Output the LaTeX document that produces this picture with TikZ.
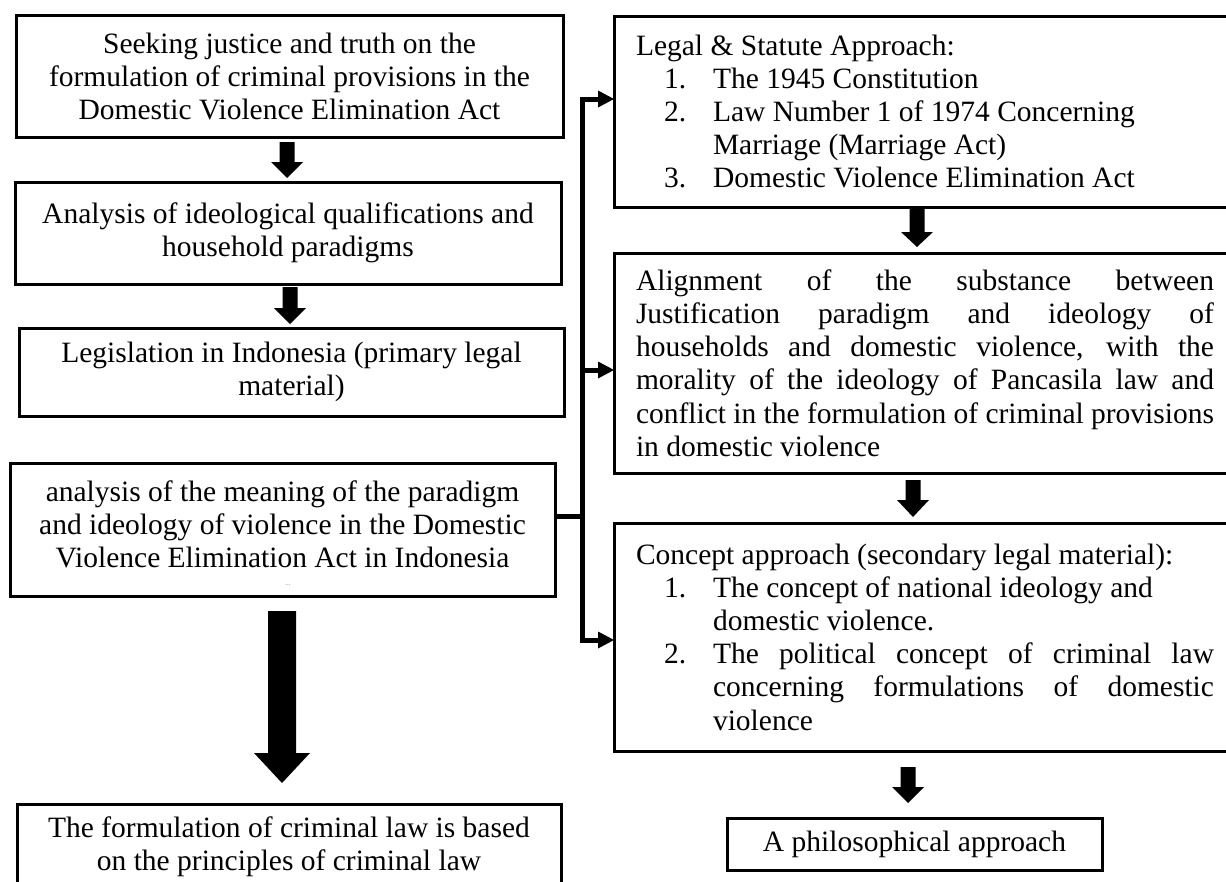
\documentclass[tikz,border=0pt]{standalone}
\usepackage{fontspec}
\setmainfont{Liberation Serif}
\usetikzlibrary{arrows.meta,calc}
\tolerance=10000 \hbadness=10000 \hfuzz=6pt
\newcommand\numitem[2]{{\leftskip=77pt\noindent\hspace*{-49pt}\makebox[49pt][l]{#1}#2\par}}
\newcommand\blockarrow[6]{%
  \fill let \p1=(#2), \p2=(#3) in
    ({#1pt-#4pt},\y1) -- ({#1pt+#4pt},\y1) -- ({#1pt+#4pt},\y2+#6pt) -- ({#1pt+#5pt},\y2+#6pt)
    -- (#1pt,\y2) -- ({#1pt-#5pt},\y2+#6pt) -- ({#1pt-#4pt},\y2+#6pt) -- cycle;}
\tikzset{
  box/.style={draw, line width=3pt, rectangle, inner sep=0pt, outer sep=0pt, align=center,
    font=\fontsize{29.5}{33}\selectfont},
  rbox/.style={draw, line width=3pt, rectangle, anchor=west, inner xsep=22pt, inner ysep=0pt,
    outer sep=0pt, font=\fontsize{29.5}{33.2}\selectfont},
  conn/.style={line width=5pt, line join=miter},
  conntip/.style={-{Triangle[length=16pt,width=17pt,line width=0pt]}}
}
\begin{document}
\begin{tikzpicture}[x=1pt,y=-1pt]
\useasboundingbox (0,0) rectangle (1226,881);
\fill[white] (0,0) rectangle (1226,881);
\clip (0,0) rectangle (1226,881);

% left column
\node[box, minimum width=547, minimum height=122] (A) at (289.5,76)
  {Seeking justice and truth on the\\formulation of criminal provisions in the\\Domestic Violence Elimination Act};
\node[box, minimum width=546, minimum height=102] (B) at (288,233)
  {Analysis of ideological qualifications and\\household paradigms};
\node[box, minimum width=545, minimum height=88] (C) at (291.5,372)
  {Legislation in Indonesia (primary legal\\material)};
\node[box, minimum width=545, minimum height=133] (D) at (282.5,529.5) {};
\node[align=center, inner sep=0pt, font=\fontsize{29.5}{33}\selectfont] (Dt) at (282.5,524)
  {analysis of the meaning of the paradigm\\and ideology of violence in the Domestic\\Violence Elimination Act in Indonesia};
\node[inner sep=0pt, text=gray, font=\fontsize{7}{7}\selectfont] (dots) at (288,585) {...};
\node[box, minimum width=544, minimum height=86] (E) at (289,847)
  {The formulation of criminal law is based\\on the principles of criminal law};

% right column
\node[rbox, minimum height=191] (R1) at (614,111.5)
  {\parbox{578pt}{Legal \& Statute Approach:\par
   \numitem{1.}{The 1945 Constitution}
   \numitem{2.}{Law Number 1 of 1974 Concerning\\Marriage (Marriage Act)}
   \numitem{3.}{Domestic Violence Elimination Act}}\hspace*{60pt}};
\node[rbox, minimum height=220] (R2) at (614,363)
  {\parbox{578pt}{Alignment of the substance between\linebreak
   Justification paradigm and ideology of\linebreak
   households and domestic violence, with the\linebreak
   morality of the ideology of Pancasila law and\linebreak
   conflict in the formulation of criminal provisions\linebreak
   in domestic violence}\hspace*{60pt}};
\node[rbox, minimum height=228] (R3) at (614,637)
  {\parbox{578pt}{Concept approach (secondary legal material):\par
   \numitem{1.}{The concept of national ideology and\\domestic violence.}
   \numitem{2.}{The political concept of criminal law\linebreak concerning formulations of domestic\linebreak violence}}\hspace*{60pt}};
\node[box, minimum width=375, minimum height=52] (R4) at (914.5,844) {A philosophical approach};

% block arrows
\blockarrow{287}{$(A.south)+(0,5)$}{$(B.north)+(0,-4)$}{7.5}{16}{16}
\blockarrow{290}{$(B.south)+(0,3)$}{$(C.north)+(0,-4)$}{7.5}{16}{16}
\blockarrow{282}{$(D.south)+(0,15)$}{$(E.north)+(0,-21)$}{14}{28}{30}
\blockarrow{917}{$(R1.south)+(0,2)$}{$(R2.north)+(0,-6)$}{7.5}{16}{15}
\blockarrow{913}{$(R2.south)+(0,7)$}{$(R3.north)+(0,-6)$}{7.5}{16}{17}
\blockarrow{908}{$(R3.south)+(0,16)$}{$(R4.north)+(0,-15)$}{7.5}{16}{16}

% branching connector
\coordinate (jtop) at (582,99);
\coordinate (jmid) at (582,370);
\coordinate (jbot) at (582,640);
\coordinate (jd) at (582,516);
\draw[conn, conntip] (jbot) -- (jtop) -- (jtop -| R1.west);
\draw[conn, conntip] (jtop) -- (jbot) -- (jbot -| R3.west);
\draw[conn, conntip] (jmid) -- (jmid -| R2.west);
\draw[conn] (jd -| D.east) -- (jd);
\end{tikzpicture}
\end{document}
